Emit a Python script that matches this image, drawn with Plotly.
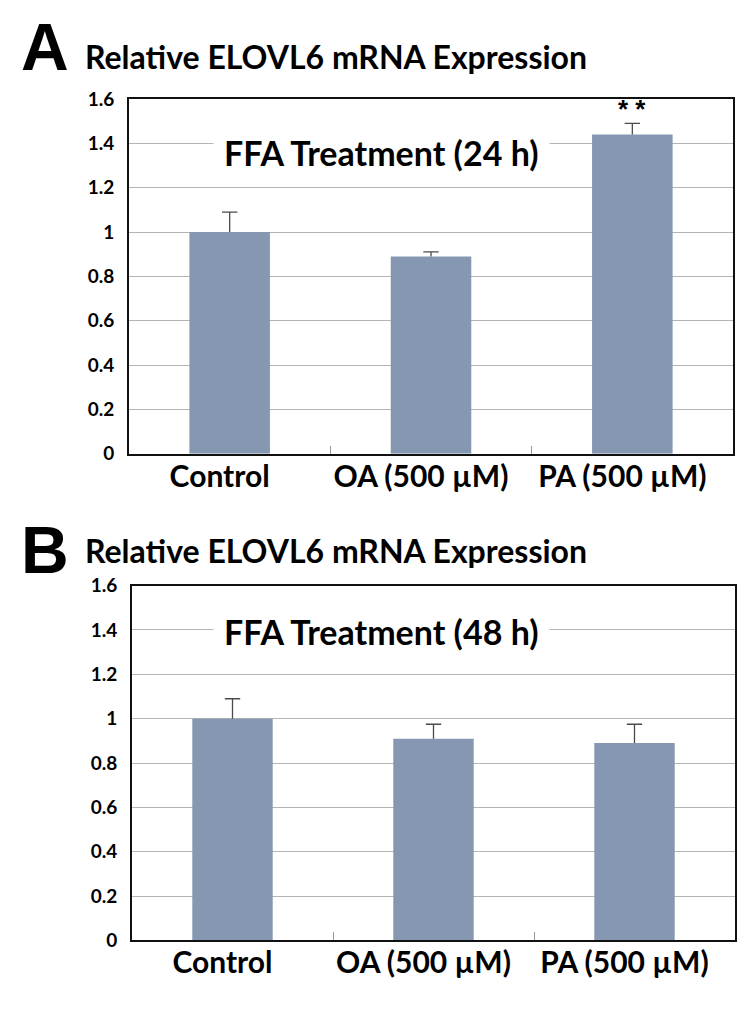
import plotly.graph_objects as go

# ---- data ----
categories = ["Control", "OA (500 µM)", "PA (500 µM)"]
values_24h = [1.0, 0.89, 1.44]
errors_24h = [0.09, 0.02, 0.05]
values_48h = [1.0, 0.91, 0.89]
errors_48h = [0.09, 0.065, 0.085]
y_tick_vals = [0, 0.2, 0.4, 0.6, 0.8, 1.0, 1.2, 1.4, 1.6]
y_tick_text = ["0", "0.2", "0.4", "0.6", "0.8", "1", "1.2", "1.4", "1.6"]
panel_letters = ["A", "B"]
panel_titles = ["Relative ELOVL6 mRNA Expression", "Relative ELOVL6 mRNA Expression"]
inset_labels = ["FFA Treatment (24 h)", "FFA Treatment (48 h)"]
significance_24h = ["", "", "**"]

W, H = 750, 1012
BAR_COLOR = "#8597b1"
ERR_COLOR = "#4a4a4a"
FONT = "Lato"

fig = go.Figure()

for i, (vals, errs) in enumerate([(values_24h, errors_24h), (values_48h, errors_48h)]):
    suffix = "" if i == 0 else "2"
    fig.add_trace(go.Bar(
        x=categories, y=vals, width=0.4,
        marker=dict(color=BAR_COLOR, line=dict(width=0)),
        error_y=dict(type="data", array=errs, arrayminus=[0] * len(errs),
                     symmetric=False, color=ERR_COLOR, thickness=1.3, width=0),
        xaxis="x" + suffix, yaxis="y" + suffix, showlegend=False,
        hoverinfo="skip",
    ))
    # caps only on top of the error bars
    fig.add_trace(go.Scatter(
        x=categories, y=[v + e for v, e in zip(vals, errs)], mode="markers",
        marker=dict(symbol="line-ew", size=11, line=dict(color=ERR_COLOR, width=1.3)),
        xaxis="x" + suffix, yaxis="y" + suffix, showlegend=False, hoverinfo="skip",
    ))

def px_x(p):
    return p / W

def px_y(p):
    return 1 - p / H

axis_common_x = dict(
    showline=True, linecolor="#111111", linewidth=2, mirror=True,
    ticks="inside", tickson="boundaries", ticklen=8, tickcolor="#9a9a9a", tickwidth=1,
    tickfont=dict(family=FONT, size=30, color="black", weight="bold"),
    ticklabelshift=-10, ticklabelstandoff=-5,
    showgrid=False, zeroline=False, fixedrange=True,
)
axis_common_y = dict(
    range=[0, 1.6], tickmode="array", tickvals=y_tick_vals, ticktext=y_tick_text,
    showline=True, linecolor="#111111", linewidth=2, mirror=True,
    ticks="", ticklabelstandoff=9,
    tickfont=dict(family=FONT, size=19, color="black", weight="bold"),
    showgrid=True, gridcolor="#b5b5b5", gridwidth=1, zeroline=False, fixedrange=True,
)

fig.update_layout(
    width=W, height=H, margin=dict(l=0, r=0, t=0, b=0),
    paper_bgcolor="white", plot_bgcolor="white",
    xaxis=dict(domain=[px_x(129), px_x(733)], anchor="y", **axis_common_x),
    yaxis=dict(domain=[px_y(452), px_y(89)], anchor="x", **axis_common_y),
    xaxis2=dict(domain=[px_x(132), px_x(735)], anchor="y2", **axis_common_x),
    yaxis2=dict(domain=[px_y(950), px_y(587)], anchor="x2", **axis_common_y),
)

annotations = []
# panel letters and titles
letter_y = [36, 550]
title_y = [46, 551]
for i in range(2):
    annotations.append(dict(
        text=panel_letters[i], xref="paper", yref="paper",
        x=px_x(19), y=px_y(letter_y[i]), xanchor="left", yanchor="middle",
        showarrow=False, font=dict(family="Liberation Sans", size=66, color="black", weight="bold"),
    ))
    annotations.append(dict(
        text=panel_titles[i], xref="paper", yref="paper",
        x=px_x(83), y=px_y(title_y[i]), xanchor="left", yanchor="middle",
        showarrow=False, font=dict(family=FONT, size=32, color="black", weight="bold"),
    ))

# inset labels with white background
annotations.append(dict(
    text=inset_labels[0], xref="x domain", yref="y", x=0.418, y=1.36,
    xanchor="center", yanchor="middle", showarrow=False, bgcolor="white", borderpad=10,
    font=dict(family=FONT, size=34, color="black", weight="bold"),
))
annotations.append(dict(
    text=inset_labels[1], xref="x2 domain", yref="y2", x=0.413, y=1.395,
    xanchor="center", yanchor="middle", showarrow=False, bgcolor="white", borderpad=10,
    font=dict(family=FONT, size=34, color="black", weight="bold"),
))

# significance marks
for cat, v, e, s in zip(categories, values_24h, errors_24h, significance_24h):
    if s:
        annotations.append(dict(
            text=" ".join(s), xref="x", yref="y", x=cat, y=v + e,
            xanchor="center", yanchor="bottom", yshift=-3, showarrow=False,
            font=dict(family="Liberation Sans", size=26, color="black", weight="bold"),
        ))

fig.update_layout(annotations=annotations)

fig.write_html("out.html")
